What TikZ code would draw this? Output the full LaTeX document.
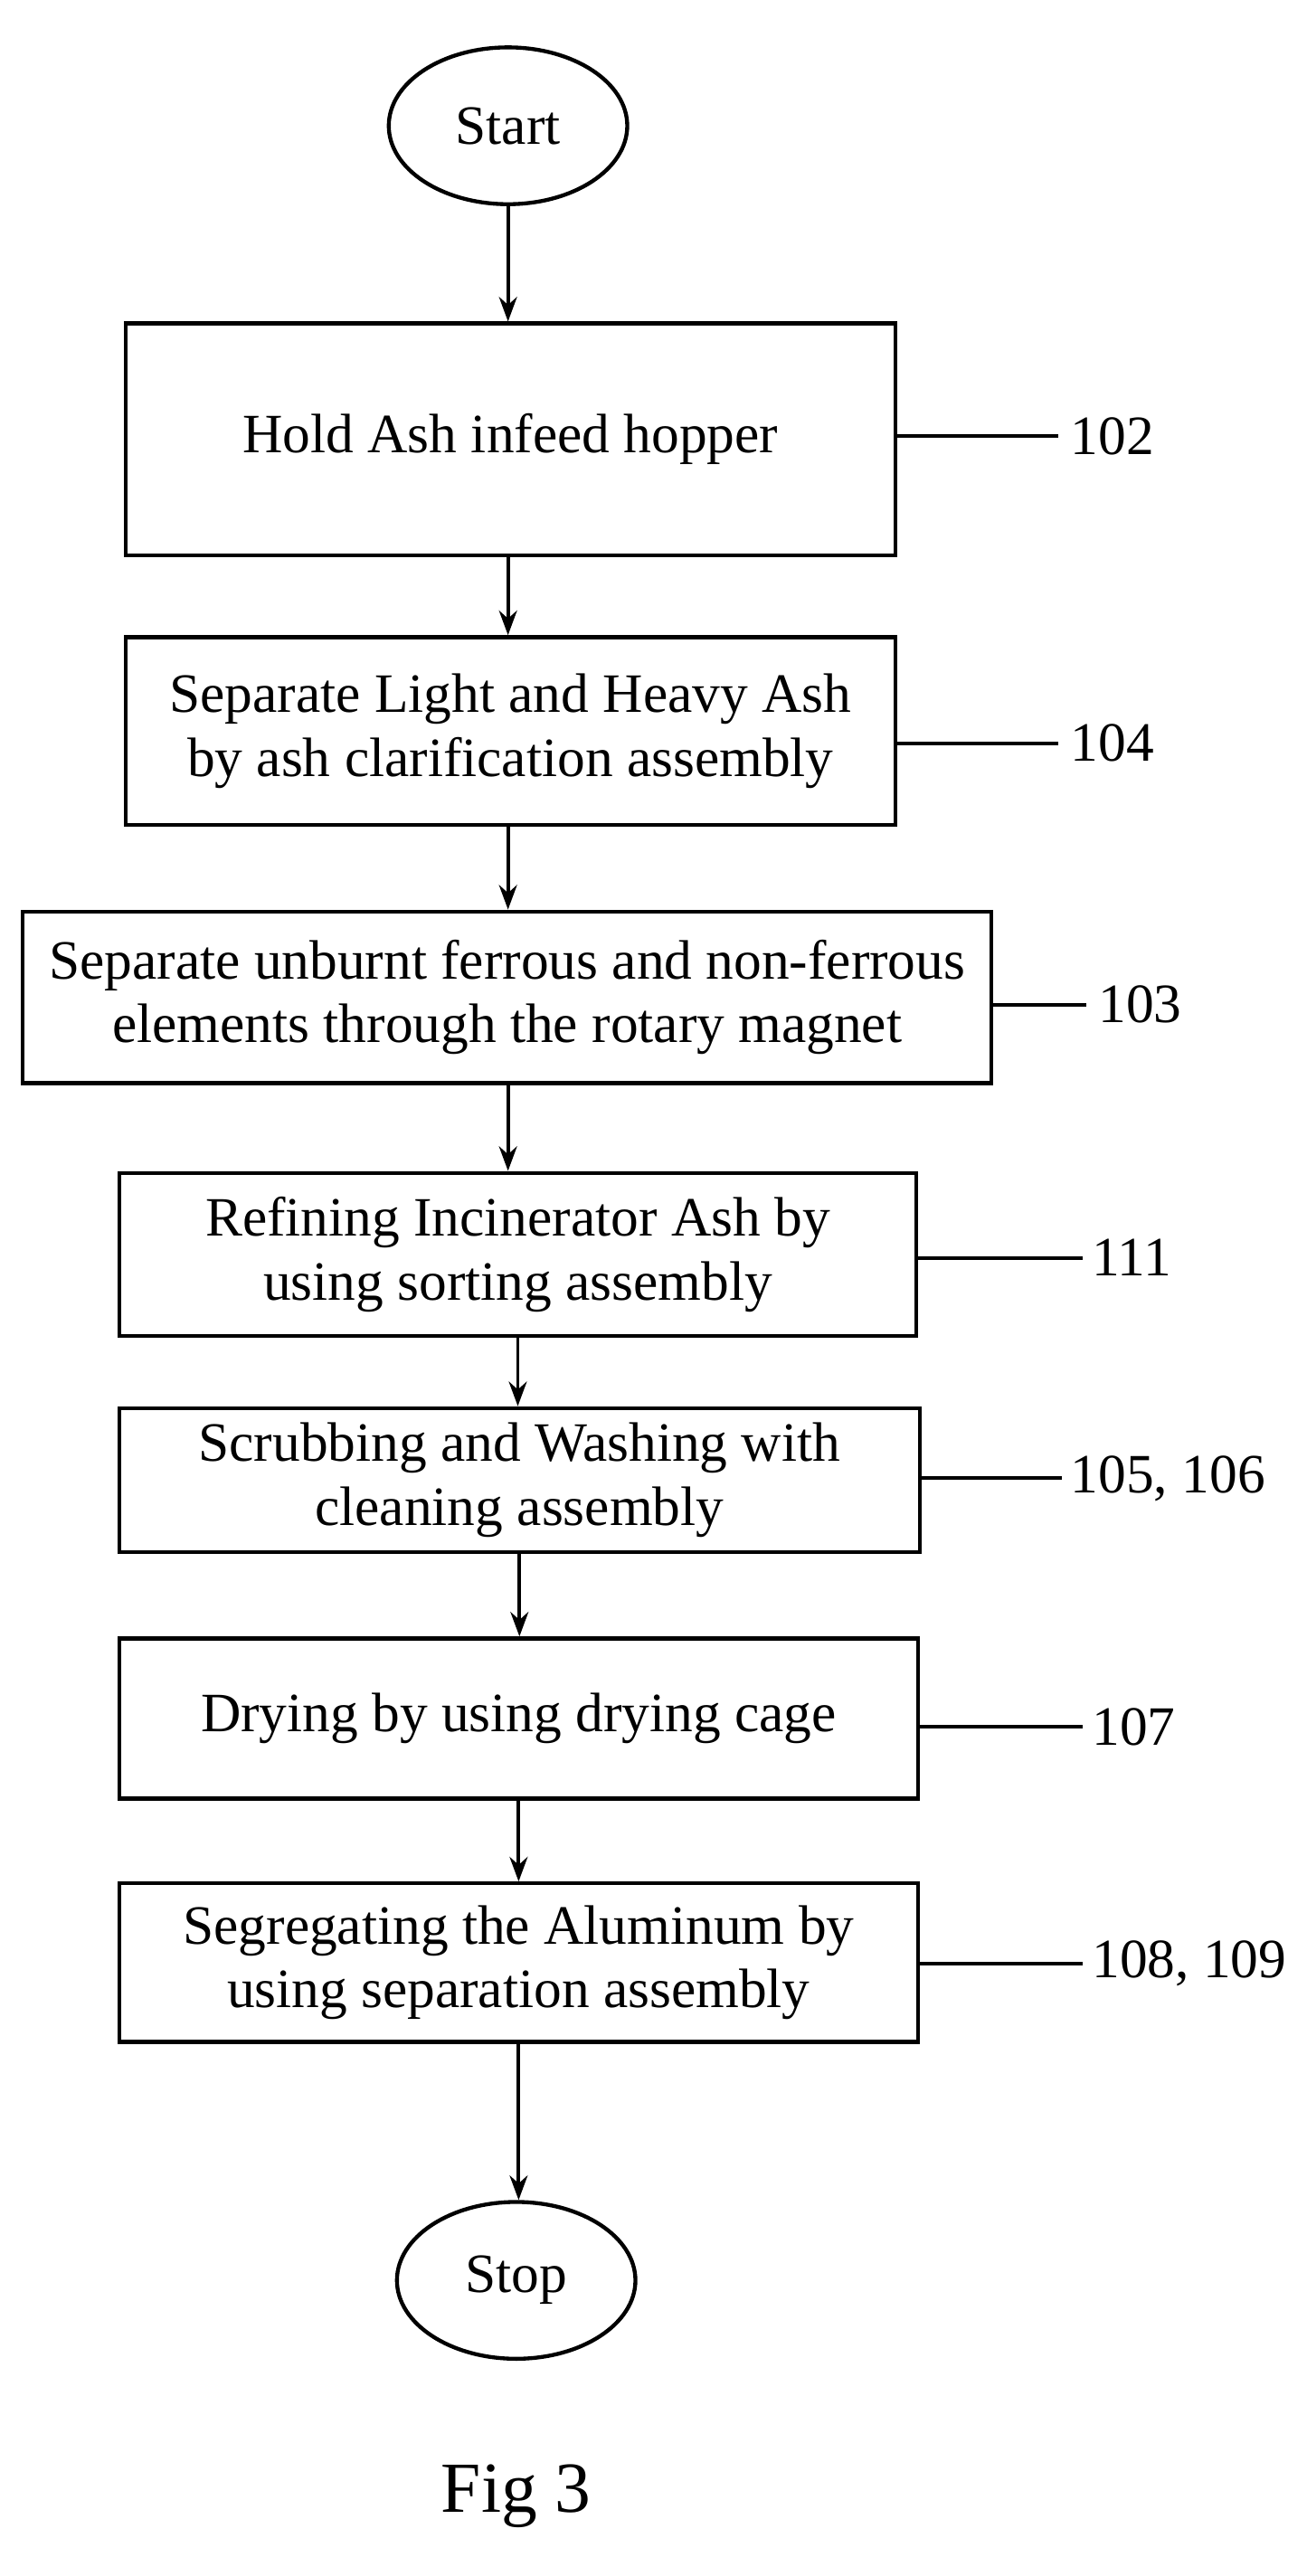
\documentclass[tikz,border=0pt]{standalone}
\usepackage{fontspec}
\setmainfont{Liberation Serif}
\usetikzlibrary{shapes.geometric,arrows.meta}
\begin{document}
\begin{tikzpicture}[x=1pt,y=-1pt,
  box/.style={draw,line width=2.4pt,align=center,inner sep=0pt,font=\fontsize{34}{39}\selectfont},
  ell/.style={draw,ellipse,line width=2.4pt,minimum width=146pt,minimum height=96pt,font=\fontsize{34}{39}\selectfont},
  arr/.style={line width=2.2pt,-{Stealth[length=15pt,width=11pt]}},
  lead/.style={line width=2.2pt},
  lab/.style={anchor=west,font=\fontsize{34}{39}\selectfont}]
\useasboundingbox (0,0) rectangle (800,1577);
\node[ell] (s) at (311,77) {Start};
\node[box,minimum width=471pt,minimum height=142pt] (b1) at (312.5,269) {Hold Ash infeed hopper};
\node[box,minimum width=471pt,minimum height=115pt] (b2) at (312.5,447.5) {Separate Light and Heavy Ash\\by ash clarification assembly};
\node[box,minimum width=593pt,minimum height=105pt] (b3) at (310.5,610.5) {Separate unburnt ferrous and non-ferrous\\elements through the rotary magnet};
\node[box,minimum width=488pt,minimum height=100pt] (b4) at (317,768) {Refining Incinerator Ash by\\using sorting assembly};
\node[box,minimum width=490pt,minimum height=88pt] (b5) at (318,906) {Scrubbing and Washing with\\cleaning assembly};
\node[box,minimum width=489pt,minimum height=98pt] (b6) at (317.5,1052) {Drying by using drying cage};
\node[box,minimum width=489pt,minimum height=97pt] (b7) at (317.5,1201.5) {Segregating the Aluminum by\\using separation assembly};
\node[ell] (e) at (316,1396) {Stop};
\node[font=\fontsize{44}{50}\selectfont] (fig) at (316,1528) {Fig 3};
\draw[arr] (s.south) -- (s.south |- b1.north);
\draw[arr] (b1.south -| s.south) -- (s.south |- b2.north);
\draw[arr] (b2.south -| s.south) -- (s.south |- b3.north);
\draw[arr] (b3.south -| s.south) -- (s.south |- b4.north);
\draw[arr] (b4.south) -- (b4.south |- b5.north);
\draw[arr] (b5.south) -- (b5.south |- b6.north);
\draw[arr] (b6.south) -- (b6.south |- b7.north);
\draw[arr] (b7.south) -- (b7.south |- e.north);
\coordinate (c1) at (648,267); \draw[lead] (b1.east |- c1) -- (c1); \node[lab] (l1) at (652,267) {102};
\coordinate (c2) at (648,455); \draw[lead] (b2.east |- c2) -- (c2); \node[lab] (l2) at (652,455) {104};
\coordinate (c3) at (665,615); \draw[lead] (b3.east |- c3) -- (c3); \node[lab] (l3) at (669,615) {103};
\coordinate (c4) at (663,770); \draw[lead] (b4.east |- c4) -- (c4); \node[lab] (l4) at (665,770) {111};
\coordinate (c5) at (650,905); \draw[lead] (b5.east |- c5) -- (c5); \node[lab] (l5) at (652,905) {105, 106};
\coordinate (c6) at (663,1057); \draw[lead] (b6.east |- c6) -- (c6); \node[lab] (l6) at (665,1057) {107};
\coordinate (c7) at (663,1202); \draw[lead] (b7.east |- c7) -- (c7); \node[lab] (l7) at (665,1202) {108, 109};
\end{tikzpicture}
\end{document}
